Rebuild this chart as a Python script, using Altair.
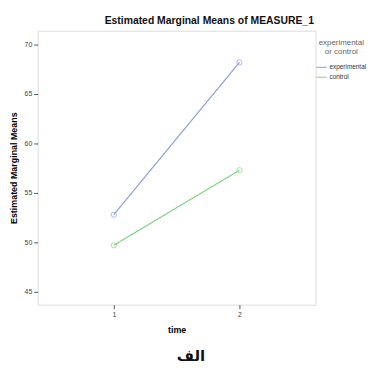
import altair as alt
import pandas as pd

times = [1, 2, 1, 2]
groups = ["experimental", "experimental", "control", "control"]
means = [52.8, 68.2, 49.7, 57.3]
y_ticks = [45, 50, 55, 60, 65, 70]
x_ticks = [1, 2]
caption = ["الف"]

df = pd.DataFrame({"time": times, "group": groups, "mean": means})
cap = pd.DataFrame({"t": caption})

cscale = alt.Scale(domain=["experimental", "control"], range=["#8c9ed8", "#7fd47f"])
color = alt.Color(
    "group:N",
    scale=cscale,
    legend=alt.Legend(
        title=["experimental", "or control"],
        orient="none", legendX=281, legendY=8,
        titleFontSize=8, titleColor="#666", titleFontWeight="normal",
        titleAlign="center", titleAnchor="middle", titleFont="Liberation Sans",
        labelFontSize=6.5, labelColor="#333", labelFont="Liberation Sans",
        symbolType="stroke", symbolStrokeWidth=1, symbolSize=110,
        rowPadding=0, labelOffset=2, symbolOffset=0, labelLimit=60,
    ),
)

x = alt.X("time:Q", scale=alt.Scale(domain=[0.394, 2.606], nice=False, zero=False),
          axis=alt.Axis(values=x_ticks, title="time", grid=False, tickSize=4,
                        labelFontSize=7, labelColor="#444", titleFontSize=9,
                        titleFontWeight="bold", titlePadding=8, domain=False,
                        tickColor="#555", labelFont="Liberation Sans", titleFont="Liberation Sans"))
y = alt.Y("mean:Q", scale=alt.Scale(domain=[43.7, 71.4], nice=False, zero=False),
          axis=alt.Axis(values=y_ticks, title="Estimated Marginal Means", grid=False, tickSize=4,
                        labelFontSize=7, labelColor="#444", titleFontSize=9,
                        titleFontWeight="bold", titlePadding=6, domain=False,
                        tickColor="#555", labelFont="Liberation Sans", titleFont="Liberation Sans"))

lines = alt.Chart(df).mark_line(strokeWidth=1.2).encode(x=x, y=y, color=color, detail="group:N")
pts = alt.Chart(df).mark_point(shape="circle", filled=False, size=28, strokeWidth=1).encode(
    x=x, y=y, color=alt.Color("group:N", scale=cscale, legend=None))
txt = alt.Chart(cap).mark_text(fontSize=15, fontWeight="bold", font="DejaVu Sans", color="#111",
                               baseline="alphabetic").encode(
    text="t:N", x=alt.value(155), y=alt.value(334))

chart = alt.layer(lines, pts, txt).properties(
    width=281, height=277,
    title=alt.TitleParams("Estimated Marginal Means of MEASURE_1", fontSize=10.5, fontWeight="bold",
                          font="Liberation Sans", anchor="middle", offset=4, color="#111", dx=33),
    autosize=alt.AutoSizeParams(type="none"),
    padding={"left": 30, "top": 21, "right": 54, "bottom": 57},
).configure_view(fill="#f1f1f1", stroke="#8a8a8a", strokeWidth=1.5).configure(background="white")

chart.save("out.html", embed_options={"renderer": "svg", "actions": False})
